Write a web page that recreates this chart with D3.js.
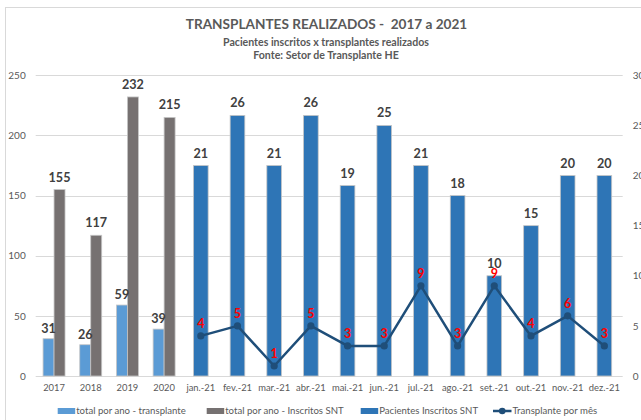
<!DOCTYPE html>
<html>
<head>
<meta charset="utf-8">
<script src="https://cdn.jsdelivr.net/npm/d3@7/dist/d3.min.js"></script>
<style>
  html, body { margin: 0; padding: 0; background: #fff; }
  svg { display: block; font-family: Lato, "Open Sans", sans-serif; }
  text { white-space: pre; }
</style>
</head>
<body>
<svg id="chart" width="641" height="420"></svg>
<script>
// Categories along the x axis
const categories = ["2017", "2018", "2019", "2020", "jan.-21", "fev.-21", "mar.-21", "abr.-21",
  "mai.-21", "jun.-21", "jul.-21", "ago.-21", "set.-21", "out.-21", "nov.-21", "dez.-21"];

// Yearly totals (left axis)
const years = ["2017", "2018", "2019", "2020"];
const yearTransplants = [31, 26, 59, 39];
const yearRegistered = [155, 117, 232, 215];

// Monthly 2021 values (right axis)
const months = ["jan.-21", "fev.-21", "mar.-21", "abr.-21", "mai.-21", "jun.-21",
  "jul.-21", "ago.-21", "set.-21", "out.-21", "nov.-21", "dez.-21"];
const monthRegistered = [21, 26, 21, 26, 19, 25, 21, 18, 10, 15, 20, 20];
const monthTransplants = [4, 5, 1, 5, 3, 3, 9, 3, 9, 4, 6, 3];

// Axis ticks
const leftTicks = [0, 50, 100, 150, 200, 250];
const rightTicks = [0, 5, 10, 15, 20, 25, 30];

const legendLabels = ["total por ano - transplante", "total por ano - Inscritos SNT",
  "Pacientes Inscritos SNT", "Transplante por mês"];

const colors = {
  light: "#5B9BD5",
  gray: "#767171",
  blue: "#2E75B6",
  line: "#1F4E79",
  text: "#595959",
  label: "#404040",
  grid: "#d9d9d9"
};

const svg = d3.select("#chart");

// Outer frame of the chart area
svg.append("rect")
  .attr("x", 5.5).attr("y", 7.5)
  .attr("width", 700).attr("height", 500)
  .attr("fill", "none").attr("stroke", "#d9d9d9");

const plot = { left: 35.7, right: 622.7, top: 75.3, bottom: 376 };

const x = d3.scaleBand().domain(categories).range([plot.left, plot.right]).padding(0);
const yL = d3.scaleLinear().domain([0, 250]).range([plot.bottom, plot.top]);
const yR = d3.scaleLinear().domain([0, 30]).range([plot.bottom, plot.top]);
const xSub = d3.scaleBand().domain(["t", "i"]).range([0, x.bandwidth()])
  .paddingInner(0).paddingOuter(0.67);

// Titles
const titles = svg.append("g").attr("fill", colors.text).attr("text-anchor", "middle")
  .attr("font-weight", "bold");
titles.append("text").attr("x", 326.5).attr("y", 29).attr("font-size", 13.6)
  .text("TRANSPLANTES REALIZADOS -  2017 a 2021");
titles.append("text").attr("x", 326).attr("y", 46).attr("font-size", 10.6)
  .text("Pacientes inscritos x transplantes realizados");
titles.append("text").attr("x", 326).attr("y", 59).attr("font-size", 10.6)
  .text("Fonte: Setor de Transplante HE");

// Gridlines
svg.append("g").selectAll("line").data(leftTicks).join("line")
  .attr("x1", plot.left).attr("x2", plot.right)
  .attr("y1", d => Math.round(yL(d)) + 0.5).attr("y2", d => Math.round(yL(d)) + 0.5)
  .attr("stroke", colors.grid).attr("stroke-width", 1);

const axisFont = "Lato, 'Open Sans', sans-serif";

// Left axis
const leftAxis = svg.append("g").attr("transform", `translate(${plot.left - 10},0)`)
  .call(d3.axisLeft(yL).tickValues(leftTicks).tickSize(0).tickPadding(0));
leftAxis.select(".domain").remove();
leftAxis.selectAll("text").attr("fill", colors.text).attr("font-size", 10)
  .attr("font-family", axisFont);

// Right axis
const rightAxis = svg.append("g").attr("transform", `translate(${plot.right + 10},0)`)
  .call(d3.axisRight(yR).tickValues(rightTicks).tickSize(0).tickPadding(0));
rightAxis.select(".domain").remove();
rightAxis.selectAll("text").attr("fill", colors.text).attr("font-size", 10)
  .attr("font-family", axisFont);

// Bottom axis
const bottomAxis = svg.append("g").attr("transform", `translate(0,${plot.bottom + 8})`)
  .call(d3.axisBottom(x).tickSize(0).tickPadding(0));
bottomAxis.select(".domain").remove();
bottomAxis.selectAll("text").attr("fill", colors.text).attr("font-size", 9.4)
  .attr("font-family", axisFont);

const barStroke = "#c6c6c6";

// Yearly bars
const yearG = svg.append("g");
yearG.selectAll("rect.t").data(years).join("rect").attr("class", "t")
  .attr("x", (d) => x(d) + xSub("t"))
  .attr("width", xSub.bandwidth())
  .attr("y", (d, i) => yL(yearTransplants[i]))
  .attr("height", (d, i) => yL(0) - yL(yearTransplants[i]))
  .attr("fill", colors.light).attr("stroke", barStroke).attr("stroke-width", 0.8);
yearG.selectAll("rect.i").data(years).join("rect").attr("class", "i")
  .attr("x", (d) => x(d) + xSub("i"))
  .attr("width", xSub.bandwidth())
  .attr("y", (d, i) => yL(yearRegistered[i]))
  .attr("height", (d, i) => yL(0) - yL(yearRegistered[i]))
  .attr("fill", colors.gray).attr("stroke", barStroke).attr("stroke-width", 0.8);

// Monthly bars (right axis)
const mw = x.bandwidth() * 0.4;
svg.append("g").selectAll("rect").data(months).join("rect")
  .attr("x", d => x(d) + (x.bandwidth() - mw) / 2)
  .attr("width", mw)
  .attr("y", (d, i) => yR(monthRegistered[i]))
  .attr("height", (d, i) => yR(0) - yR(monthRegistered[i]))
  .attr("fill", colors.blue).attr("stroke", barStroke).attr("stroke-width", 0.8);

// Bar value labels
const labelG = svg.append("g").attr("fill", colors.label).attr("font-weight", "bold")
  .attr("font-size", 12.6).attr("text-anchor", "middle");
labelG.selectAll("text.t").data(years).join("text").attr("class", "t")
  .attr("x", d => x(d) + xSub("t") + xSub.bandwidth() / 2)
  .attr("y", (d, i) => yL(yearTransplants[i]) - 6)
  .text((d, i) => yearTransplants[i]);
labelG.selectAll("text.i").data(years).join("text").attr("class", "i")
  .attr("x", d => x(d) + xSub("i") + xSub.bandwidth() / 2)
  .attr("y", (d, i) => yL(yearRegistered[i]) - 8)
  .text((d, i) => yearRegistered[i]);
labelG.selectAll("text.m").data(months).join("text").attr("class", "m")
  .attr("x", d => x(d) + x.bandwidth() / 2)
  .attr("y", (d, i) => yR(monthRegistered[i]) - 8)
  .text((d, i) => monthRegistered[i]);

// Monthly transplant line
const cx = d => x(d) + x.bandwidth() / 2;
const line = d3.line().x(d => cx(d.m)).y(d => yR(d.v));
const pts = months.map((m, i) => ({ m, v: monthTransplants[i] }));
svg.append("path").datum(pts).attr("d", line)
  .attr("fill", "none").attr("stroke", colors.line).attr("stroke-width", 2.5)
  .attr("stroke-linejoin", "round");
svg.append("g").selectAll("circle").data(pts).join("circle")
  .attr("cx", d => cx(d.m)).attr("cy", d => yR(d.v)).attr("r", 3.6)
  .attr("fill", colors.line);
svg.append("g").attr("fill", "#FF0000").attr("font-weight", "bold")
  .attr("font-size", 12.5).attr("text-anchor", "middle")
  .selectAll("text").data(pts).join("text")
  .attr("x", d => cx(d.m)).attr("y", d => yR(d.v) - 8)
  .text(d => d.v);

// Legend
const legend = svg.append("g").attr("font-size", 9.6).attr("fill", colors.text);
const legendItems = [
  { x: 57.7, type: "rect", color: colors.light },
  { x: 206.7, type: "rect", color: colors.gray },
  { x: 360.7, type: "rect", color: colors.blue },
  { x: 493, type: "line", color: colors.line }
];
legendItems.forEach((it, i) => {
  const g = legend.append("g").attr("transform", `translate(${it.x},411)`);
  if (it.type === "rect") {
    g.append("rect").attr("x", 0).attr("y", -3).attr("width", 17.5).attr("height", 6)
      .attr("fill", it.color);
  } else {
    g.append("line").attr("x1", 0).attr("x2", 18.5).attr("y1", 0).attr("y2", 0)
      .attr("stroke", it.color).attr("stroke-width", 2.5);
    g.append("circle").attr("cx", 9.25).attr("cy", 0).attr("r", 3.3).attr("fill", it.color);
  }
  g.append("text").attr("x", it.type === "rect" ? 18.5 : 19.5).attr("y", 0)
    .attr("dy", "0.35em").text(legendLabels[i]);
});
</script>
</body>
</html>
